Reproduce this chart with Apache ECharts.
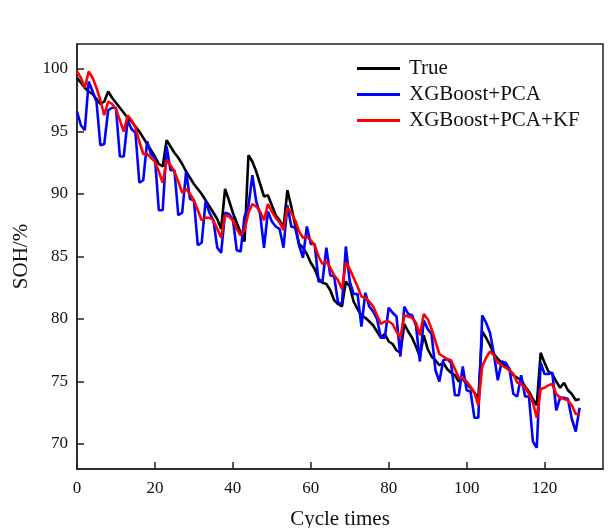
<!DOCTYPE html>
<html>
<head>
<meta charset="utf-8">
<script src="https://cdn.jsdelivr.net/npm/echarts@6/dist/echarts.min.js"></script>
<style>html,body{margin:0;padding:0;background:#fff;}#c{width:611px;height:528px;}</style>
</head>
<body>
<div id="c"></div>
<script>
const seriesNames = ['True', 'XGBoost+PCA', 'XGBoost+PCA+KF'];
const xTicks = [0, 20, 40, 60, 80, 100, 120];
const yTicks = [70, 75, 80, 85, 90, 95, 100];

const trueSOH = [
99.3, 98.9, 98.5, 98.2, 98.0, 97.6, 97.2, 97.4, 98.2, 97.7,
97.3, 96.9, 96.5, 96.1, 95.8, 95.4, 95.0, 94.5, 94.0, 93.5,
93.0, 92.4, 92.2, 94.3, 93.8, 93.3, 92.9, 92.4, 91.8, 91.3,
90.8, 90.4, 90.0, 89.5, 89.0, 88.5, 88.0, 87.2, 90.4, 89.5,
88.5, 87.7, 86.9, 86.2, 93.1, 92.6, 91.8, 90.8, 89.8, 89.9,
89.1, 88.3, 87.9, 87.3, 90.3, 89.0, 87.5, 86.0, 85.7, 85.2,
84.5, 84.0, 83.2, 82.9, 82.8, 82.3, 81.5, 81.2, 81.0, 83.0,
82.6, 81.4, 80.8, 80.3, 80.1, 79.8, 79.5, 79.0, 78.5, 78.8,
78.2, 78.0, 77.5, 77.3, 79.6, 79.0, 78.5, 77.8, 77.0, 78.7,
77.6, 77.0, 76.7, 76.3, 76.5, 76.0, 75.7, 75.5, 75.0, 75.2,
74.8, 74.5, 74.1, 73.6, 79.0, 78.5, 77.9, 77.2, 76.8, 76.5,
76.2, 75.9, 75.5, 75.3, 75.1, 74.6, 74.2, 73.6, 73.1, 77.3,
76.5, 75.8, 75.6, 75.0, 74.5, 74.9, 74.3, 74.0, 73.5, 73.6
];

const xgbPCA = [
96.6, 95.5, 95.1, 99.0, 98.2, 97.4, 93.9, 94.0, 96.7, 96.9,
96.9, 93.0, 93.0, 95.9, 95.2, 94.9, 90.9, 91.1, 94.2, 93.2,
92.9, 88.7, 88.7, 93.8, 91.9, 91.9, 88.3, 88.5, 91.8, 89.6,
89.5, 85.9, 86.1, 89.4, 88.5, 87.9, 85.7, 85.3, 88.5, 88.4,
88.0, 85.5, 85.4, 88.2, 89.0, 91.5, 89.4, 88.4, 85.7, 88.6,
87.8, 87.4, 87.2, 85.7, 89.1, 87.4, 87.3, 85.9, 84.9, 87.4,
86.0, 86.0, 83.0, 83.0, 85.7, 83.5, 83.4, 81.3, 81.2, 85.8,
83.0, 82.0, 82.0, 79.4, 82.1, 81.0, 80.6, 80.0, 78.5, 78.5,
80.9, 80.5, 80.2, 77.0, 81.0, 80.4, 80.3, 79.5, 76.6, 79.9,
79.2, 78.8, 75.9, 75.0, 76.7, 76.8, 76.5, 73.9, 73.9, 76.2,
74.3, 74.2, 72.1, 72.1, 80.3, 79.7, 78.9, 77.2, 75.1, 76.6,
76.5, 76.0, 74.0, 73.8, 75.5, 73.8, 73.8, 70.2, 69.7, 76.5,
75.6, 75.6, 75.7, 72.7, 73.7, 73.7, 73.6, 72.0, 71.0, 72.9
];

const xgbPCAKF = [
99.8, 99.3, 98.5, 99.8, 99.3, 98.5, 97.5, 96.3, 97.4, 97.2,
96.8, 95.9, 95.0, 96.3, 95.9, 95.3, 94.2, 93.2, 93.2, 92.9,
92.6, 91.8, 90.9, 92.7, 92.3, 91.8, 91.0, 90.1, 90.4, 90.0,
89.5, 88.7, 87.9, 88.1, 88.1, 87.9, 87.2, 86.5, 88.3, 88.2,
87.9, 87.2, 86.7, 87.1, 88.5, 89.2, 89.0, 88.6, 87.9, 89.2,
88.6, 88.1, 87.7, 87.1, 88.9, 88.5, 87.9, 87.0, 86.5, 86.6,
86.3, 85.9, 85.0, 84.4, 84.6, 84.1, 83.5, 83.1, 82.4, 84.5,
84.0, 83.3, 82.6, 81.8, 81.7, 81.4, 81.0, 80.3, 79.6, 79.8,
79.8, 79.6, 79.0, 78.5, 80.3, 80.2, 80.1, 79.7, 78.7, 80.4,
80.0, 79.2, 78.2, 77.2, 77.0, 76.8, 76.7, 76.0, 75.3, 75.3,
75.0, 74.6, 74.1, 73.1, 76.2, 76.9, 77.4, 77.1, 76.5, 76.3,
76.1, 75.9, 75.6, 74.9, 74.8, 74.5, 74.0, 73.3, 72.1, 74.4,
74.5, 74.7, 74.8, 74.0, 73.7, 73.6, 73.5, 73.1, 72.4, 72.4
];

const toPairs = arr => arr.map((v, i) => [i, v]);
const FONT = '"Liberation Serif", "Times New Roman", serif';
const chart = echarts.init(document.getElementById('c'), null, {renderer: 'canvas'});
const mk = (name, data, color) => ({
  name, type: 'line', data: toPairs(data), symbol: 'none', smooth: false,
  lineStyle: {color, width: 2.6}, itemStyle: {color}, animation: false
});
chart.setOption({
  animation: false,
  backgroundColor: '#fff',
  grid: {left: 77, right: 8, top: 44, bottom: 59, show: true, borderColor: '#222', borderWidth: 1.5,
    backgroundColor: 'transparent', containLabel: false, outerBoundsMode: 'none'},
  legend: {
    orient: 'vertical', left: 352, top: 53, itemWidth: 43, itemHeight: 3, itemGap: 5,
    icon: 'rect',
    data: seriesNames,
    textStyle: {fontFamily: FONT, fontSize: 21, color: '#111', padding: [0, 0, 0, 4]}
  },
  xAxis: {
    type: 'value', min: 0, max: 135, interval: 20,
    name: 'Cycle times', nameLocation: 'middle', nameGap: 40,
    nameTextStyle: {fontFamily: FONT, fontSize: 21, color: '#111'},
    axisLine: {show: true, lineStyle: {color: '#222', width: 1.5}},
    axisTick: {show: true, inside: true, length: 7, lineStyle: {color: '#222', width: 1.5}},
    axisLabel: {fontFamily: FONT, fontSize: 17, color: '#111', margin: 11, showMaxLabel: false,
      formatter: v => xTicks.includes(v) ? String(v) : ''},
    splitLine: {show: false}
  },
  yAxis: {
    type: 'value', min: 68, max: 102,
    name: 'SOH/%', nameLocation: 'middle', nameGap: 44,
    nameTextStyle: {fontFamily: FONT, fontSize: 21, color: '#111'},
    axisLine: {show: true, lineStyle: {color: '#222', width: 1.5}},
    axisTick: {show: true, inside: true, length: 7, lineStyle: {color: '#222', width: 1.5}},
    axisLabel: {fontFamily: FONT, fontSize: 17, color: '#111', margin: 9, showMinLabel: false, showMaxLabel: false,
      formatter: v => yTicks.includes(v) ? String(v) : ''},
    splitLine: {show: false}
  },
  series: [
    mk(seriesNames[0], trueSOH, '#000000'),
    mk(seriesNames[1], xgbPCA, '#0000ff'),
    mk(seriesNames[2], xgbPCAKF, '#ff0000')
  ]
});
</script>
</body>
</html>
